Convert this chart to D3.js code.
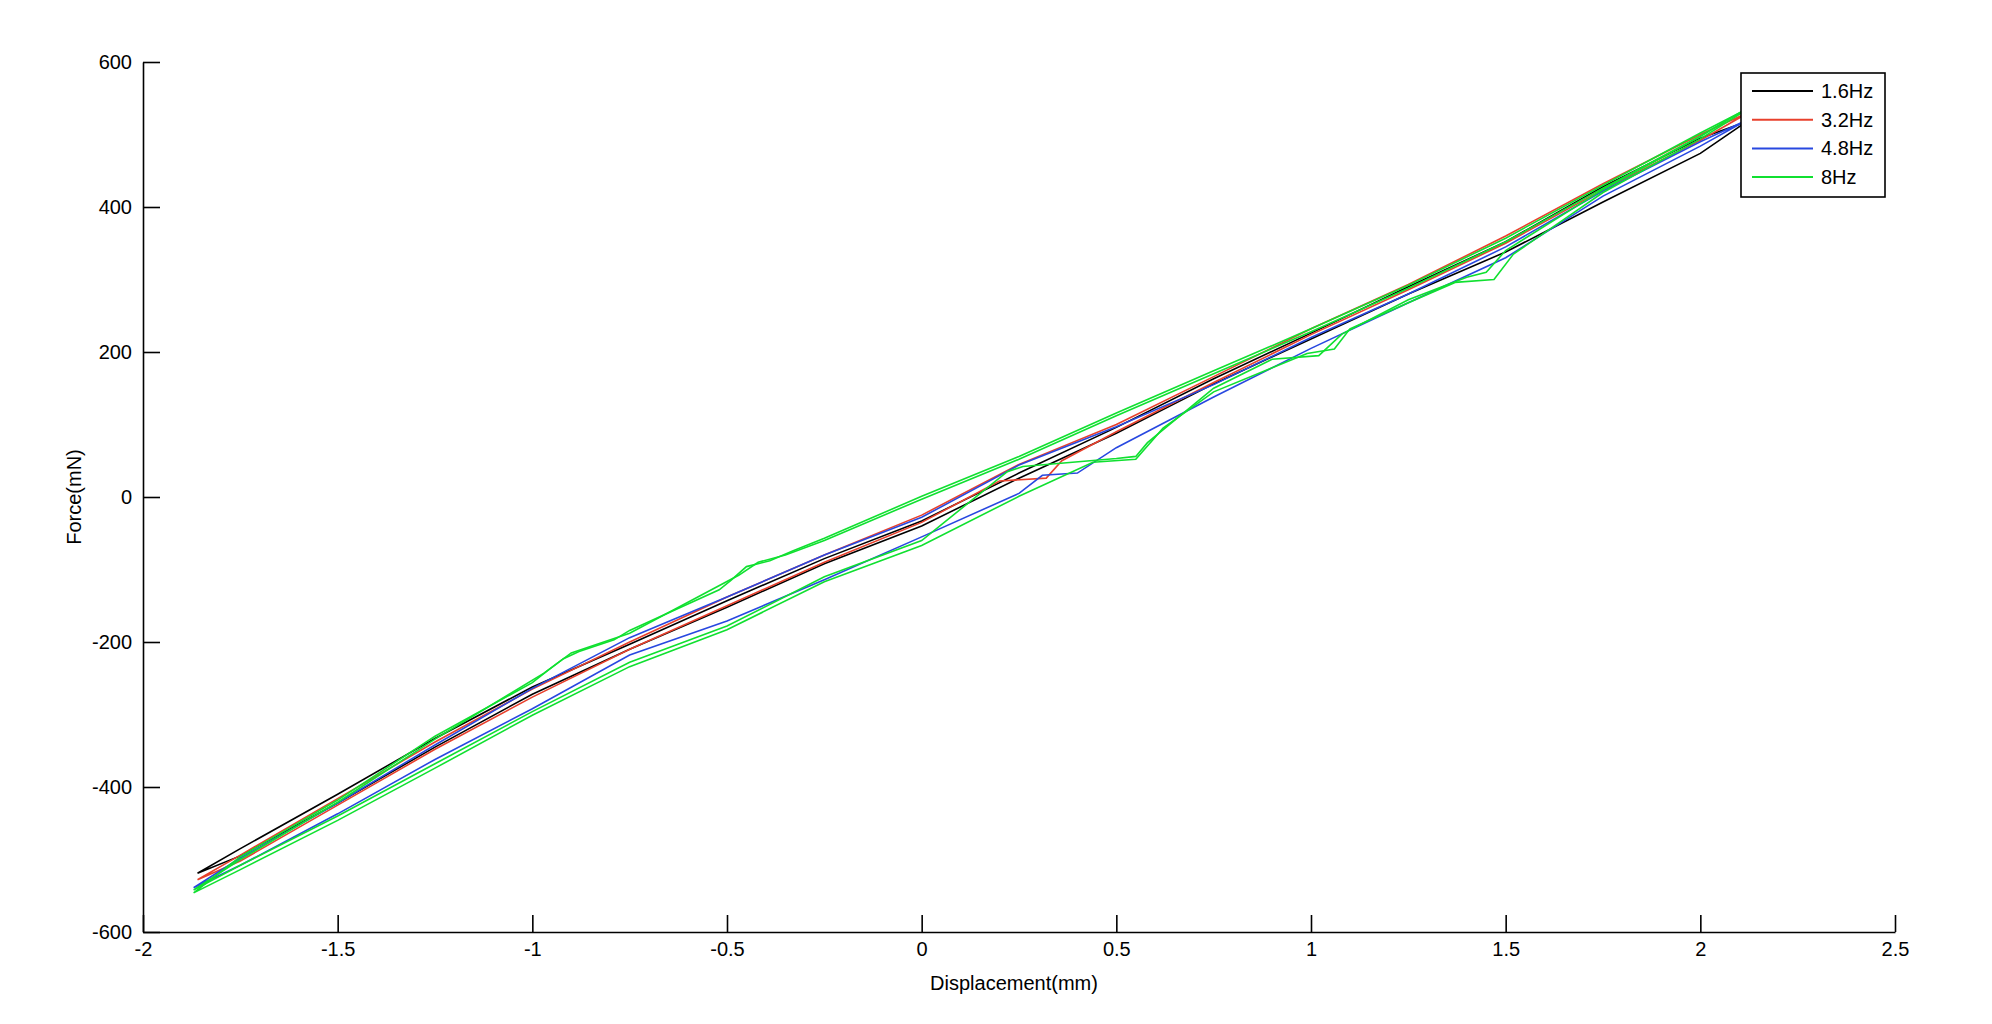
<!DOCTYPE html>
<meta charset="utf-8">

<!-- Load d3.js -->
<script src="https://d3js.org/d3.v7.min.js"></script>

<style>
  body { margin: 0; background: #fff; }
  text { font-family: "Liberation Sans", Arial, sans-serif; }
</style>

<!-- Create a div where the graph will take place -->
<div id="my_dataviz"></div>

<script>
    // loops: lower branch left->right, then upper branch right->left
    var freqLabels = ["1.6Hz", "3.2Hz", "4.8Hz", "8Hz"];
    var lineColors = ["#000000", "#e8402c", "#2848e0", "#10e030"];

    var xTicks = [-2, -1.5, -1, -0.5, 0, 0.5, 1, 1.5, 2, 2.5];
    var yTicks = [-600, -400, -200, 0, 200, 400, 600];

    var disp16  = [-1.86, -1.75, -1.5, -1.25, -1.0, -0.75, -0.5, -0.25, 0, 0.25, 0.5, 0.75, 1.0, 1.25, 1.5, 1.75, 2.0, 2.12,
                   2.0, 1.75, 1.5, 1.25, 1.0, 0.75, 0.5, 0.25, 0, -0.25, -0.5, -0.75, -1.0, -1.25, -1.5, -1.75, -1.86];
    var force16 = [-519, -495, -422, -345, -272, -210, -152, -92, -40, 26, 88, 156, 218, 280, 338, 407, 474, 518,
                   495, 428, 352, 290, 226, 163, 96, 33, -33, -85, -143, -203, -262, -333, -410, -485, -519];

    var disp32  = [-1.86, -1.75, -1.5, -1.25, -1.0, -0.75, -0.5, -0.25, 0, 0.2, 0.32, 0.36, 0.5, 0.75, 1.0, 1.25, 1.5, 1.75, 2.0, 2.13,
                   2.0, 1.75, 1.5, 1.25, 1.0, 0.75, 0.5, 0.25, 0, -0.25, -0.5, -0.75, -1.0, -1.25, -1.5, -1.75, -1.86];
    var force32 = [-528, -502, -425, -348, -276, -210, -150, -90, -35, 22, 26, 50, 90, 158, 224, 286, 350, 424, 492, 532,
                   500, 432, 360, 293, 232, 166, 100, 45, -25, -80, -138, -200, -265, -338, -416, -494, -528];

    var disp48  = [-1.87, -1.75, -1.5, -1.25, -1.0, -0.75, -0.5, -0.25, 0, 0.25, 0.31, 0.40, 0.5, 0.75, 1.0, 1.25, 1.5, 1.75, 2.0, 2.12,
                   2.0, 1.75, 1.5, 1.25, 1.0, 0.75, 0.5, 0.25, 0, -0.25, -0.5, -0.75, -1.0, -1.25, -1.5, -1.75, -1.87];
    var force48 = [-539, -508, -437, -362, -292, -218, -171, -114, -55, 5, 30, 33, 68, 138, 205, 268, 330, 415, 484, 520,
                   490, 422, 345, 280, 220, 155, 97, 44, -28, -80, -138, -194, -264, -342, -422, -498, -539];

    // 8Hz has two visible cycles
    var disp8a  = [-1.87, -1.75, -1.5, -1.25, -1.0, -0.75, -0.5, -0.25, 0, 0.25, 0.44, 0.55, 0.62, 0.75, 0.99, 1.06, 1.1, 1.25, 1.37, 1.47, 1.52, 1.75, 2.0, 2.13,
                   2.0, 1.75, 1.5, 1.25, 1.0, 0.75, 0.5, 0.25, 0, -0.25, -0.33, -0.39, -0.45, -0.49, -0.52, -0.75, -0.79, -0.88, -0.92, -0.96, -1.0, -1.25, -1.5, -1.75, -1.87];
    var force8a = [-546, -514, -446, -374, -301, -234, -183, -117, -67, 1, 48, 52, 95, 145, 198, 204, 232, 268, 296, 300, 335, 420, 494, 538,
                   502, 430, 357, 292, 232, 174, 116, 56, 1, -57, -74, -88, -96, -115, -128, -184, -197, -213, -223, -239, -256, -330, -418, -496, -546];

    var disp8b  = [-1.87, -1.75, -1.5, -1.25, -1.0, -0.75, -0.5, -0.25, 0, 0.22, 0.26, 0.5, 0.55, 0.58, 0.75, 0.9, 1.02, 1.08, 1.25, 1.4, 1.45, 1.5, 1.75, 2.0, 2.12,
                   2.0, 1.75, 1.5, 1.25, 1.0, 0.75, 0.5, 0.25, 0, -0.25, -0.35, -0.42, -0.47, -0.75, -0.9, -0.97, -1.25, -1.5, -1.75, -1.87];
    var force8b = [-542, -508, -440, -368, -296, -228, -178, -110, -60, 35, 42, 53, 56, 75, 150, 190, 195, 225, 272, 303, 310, 340, 424, 497, 536,
                   498, 426, 352, 288, 228, 170, 112, 52, -3, -60, -80, -90, -108, -188, -215, -243, -334, -421, -500, -542];

    var seriesList = [
        {color: 0, xs: disp16, ys: force16},
        {color: 1, xs: disp32, ys: force32},
        {color: 2, xs: disp48, ys: force48},
        {color: 3, xs: disp8a, ys: force8a},
        {color: 3, xs: disp8b, ys: force8b}
    ];

    // set the dimensions and margins of the graph
    var margin = {top: 62, right: 97, bottom: 92, left: 143},
        width = 1992 - margin.left - margin.right,
        height = 1024 - margin.top - margin.bottom;

    var svg = d3.select("#my_dataviz")
      .append("svg")
        .attr("width", width + margin.left + margin.right)
        .attr("height", height + margin.top + margin.bottom)
      .append("g")
        .attr("transform", "translate(" + margin.left + "," + margin.top + ")");

    var x = d3.scaleLinear().domain([-2, 2.5]).range([0, width]);
    var y = d3.scaleLinear().domain([-600, 600]).range([height, 0]);

    var line = d3.line()
        .x(function(d) { return x(d[0]); })
        .y(function(d) { return y(d[1]); });

    svg.selectAll(".loop")
      .data(seriesList)
      .enter().append("path")
        .attr("class", "loop")
        .attr("fill", "none")
        .attr("stroke", function(d) { return lineColors[d.color]; })
        .attr("stroke-width", 1.6)
        .attr("d", function(d) { return line(d.xs.map(function(v, i) { return [v, d.ys[i]]; })); });

    // axes, ticks pointing inward like matlab
    var xAxis = svg.append("g")
        .attr("transform", "translate(0," + height + ")")
        .call(d3.axisBottom(x).tickValues(xTicks).tickSizeInner(-17).tickSizeOuter(0).tickPadding(10)
              .tickFormat(function(d) { return String(d); }));

    var yAxis = svg.append("g")
        .call(d3.axisLeft(y).tickValues(yTicks).tickSizeInner(-17).tickSizeOuter(0).tickPadding(11)
              .tickFormat(function(d) { return String(d); }));

    [xAxis, yAxis].forEach(function(ax) {
        ax.select(".domain").attr("stroke", "#000").attr("stroke-width", 1.6);
        ax.selectAll(".tick line").attr("stroke", "#000").attr("stroke-width", 1.6);
        ax.selectAll(".tick text").attr("fill", "#000").style("font-size", "20px")
          .style("font-family", "'Liberation Sans', Arial, sans-serif");
    });

    // axis labels
    svg.append("text")
        .attr("x", width / 2 - 5)
        .attr("y", height + 58)
        .attr("text-anchor", "middle")
        .style("font-size", "20px")
        .text("Displacement(mm)");

    svg.append("text")
        .attr("transform", "translate(" + (-62) + "," + (height / 2) + ")rotate(-90)")
        .attr("text-anchor", "middle")
        .style("font-size", "20px")
        .text("Force(mN)");

    // legend
    var legend = svg.append("g")
        .attr("transform", "translate(" + (1741 - margin.left) + "," + (73 - margin.top) + ")");

    legend.append("rect")
        .attr("width", 144)
        .attr("height", 124)
        .attr("fill", "#fff")
        .attr("stroke", "#000")
        .attr("stroke-width", 1.6);

    var legendRow = legend.selectAll(".legendRow")
      .data(freqLabels)
      .enter().append("g")
        .attr("transform", function(d, i) { return "translate(0," + (18 + i * 28.7) + ")"; });

    legendRow.append("line")
        .attr("x1", 11).attr("x2", 72)
        .attr("stroke", function(d, i) { return lineColors[i]; })
        .attr("stroke-width", 2);

    legendRow.append("text")
        .attr("x", 80)
        .attr("y", 7)
        .style("font-size", "20px")
        .text(function(d) { return d; });
</script>
